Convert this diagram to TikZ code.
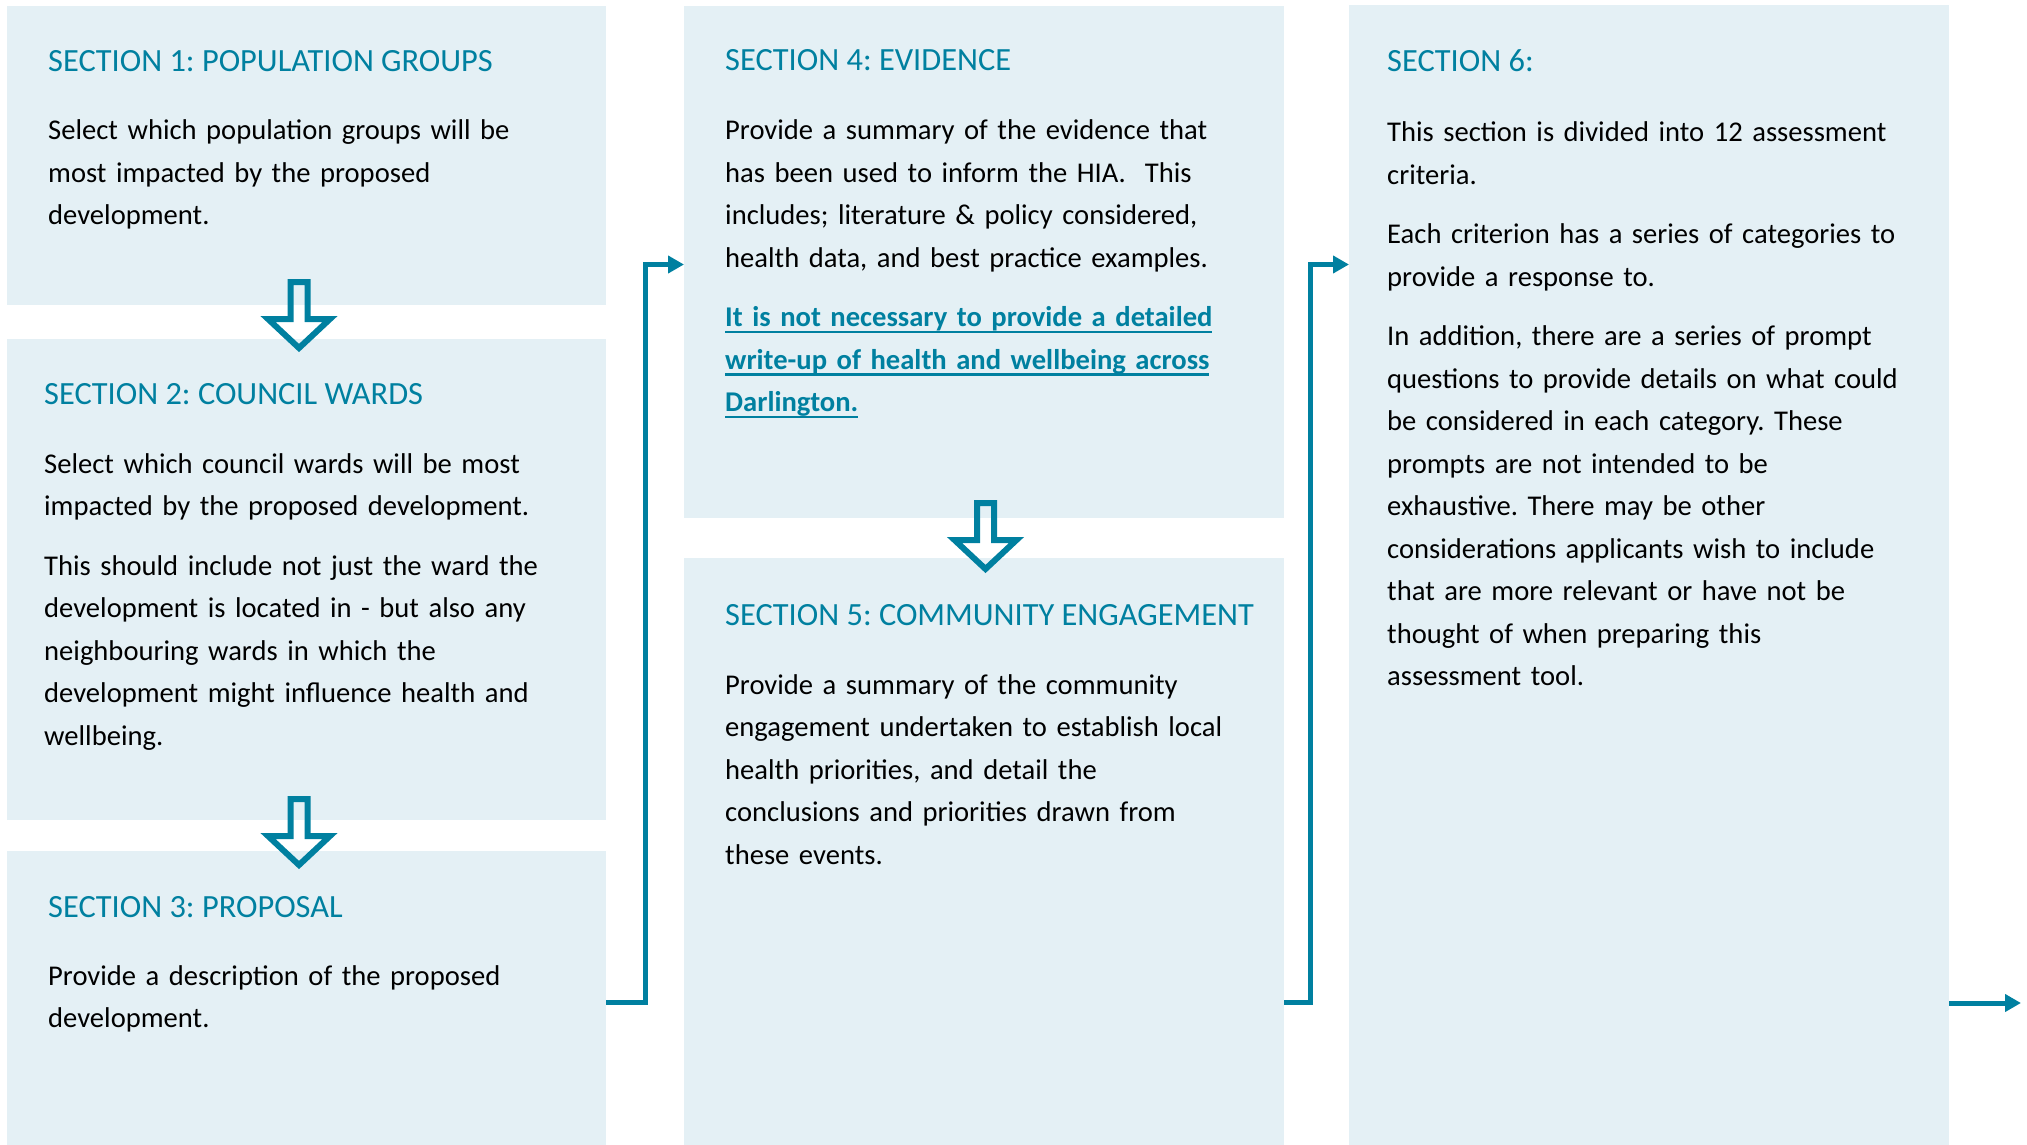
\documentclass[tikz,border=0pt]{standalone}
\usepackage{fontspec}
\setmainfont{Carlito}
\usepackage{xcolor}
\usepackage{tikz}
\usetikzlibrary{
  positioning,
  calc,
  arrows.meta
}
\definecolor{sectionteal}{RGB}{0,128,160}
\definecolor{boxblue}{RGB}{228,240,245}
\newcommand\titlefont{\fontsize{32.4}{42.5}\selectfont\frenchspacing}
\newcommand\bodyfont{\fontsize{28.6}{42.5}\selectfont\frenchspacing}
\newsavebox\linkbox
\newcommand\linkul[1]{\sbox\linkbox{#1}\rlap{\rule[-6.5pt]{\wd\linkbox}{2.5pt}}\usebox\linkbox}

\begin{document}
\begin{tikzpicture}[x=1pt,y=-1pt,
  box/.style={fill=boxblue,inner sep=0pt,outer sep=0pt,anchor=north west},
  sectitle/.style={anchor=base west,inner sep=0pt,text=sectionteal,font=\titlefont},
  sectext/.style={anchor=base west,inner sep=0pt,text width=580pt,align=left,font=\bodyfont},
  flow/.style={draw=sectionteal,line width=5pt,-{Triangle[length=16pt,width=17pt]}},
  hollowdown/.pic={\draw[sectionteal,line width=6pt] (-8.5,0) -- (-8.5,37) -- (-31,37) -- (0,66) -- (31,37) -- (8.5,37) -- (8.5,0) -- cycle;}]
  \useasboundingbox (0,0) rectangle (2027,1145);
  % 枠
  \node[box,minimum width=599.5,minimum height=298.5] (b1) at (6.5,6.5) {};
  \node[box,minimum width=599.5,minimum height=481] (b2) at (6.5,339) {};
  \node[box,minimum width=599.5,minimum height=294] (b3) at (6.5,851) {};
  \node[box,minimum width=600,minimum height=511.5] (b4) at (684,6.5) {};
  \node[box,minimum width=600,minimum height=587] (b5) at (684,558) {};
  \node[box,minimum width=600,minimum height=1140] (b6) at (1349,5) {};
  % 見出し
  \node[sectitle] (h1) at ([shift={(41.5,65.5)}]b1.north west) {SECTION 1: POPULATION GROUPS};
  \node[sectitle] (h2) at ([shift={(37.5,65)}]b2.north west) {SECTION 2: COUNCIL WARDS};
  \node[sectitle] (h3) at ([shift={(41.5,66)}]b3.north west) {SECTION 3: PROPOSAL};
  \node[sectitle] (h4) at ([shift={(41,64.5)}]b4.north west) {SECTION 4: EVIDENCE};
  \node[sectitle] (h5) at ([shift={(41,67)}]b5.north west) {SECTION 5: COMMUNITY ENGAGEMENT};
  \node[sectitle] (h6) at ([shift={(38,67)}]b6.north west) {SECTION 6:};
  % 本文
  \node[sectext] (t1) at ([yshift=-68pt]h1.base west) {Select which population groups will be\\
    most impacted by the proposed\\ development.};
  \node[sectext] (t2) at ([yshift=-69pt]h2.base west) {Select which council wards will be most\\
    impacted by the proposed development.\\[17pt]
    This should include not just the ward the\\ development is located in - but also any\\
    neighbouring wards in which the\\ development might influence health and\\ wellbeing.};
  \node[sectext] (t3) at ([yshift=-68pt]h3.base west) {Provide a description of the proposed\\ development.};
  \node[sectext] (t4) at ([yshift=-69pt]h4.base west) {Provide a summary of the evidence that\\
    has been used to inform the HIA.~~This\\ includes; literature \& policy considered,\\
    health data, and best practice examples.\\[17pt]
    \textcolor{sectionteal}{\bfseries\linkul{It is not necessary to provide a detailed}}\\
    \textcolor{sectionteal}{\bfseries\linkul{write-up of health and wellbeing across}}\\
    \textcolor{sectionteal}{\bfseries\linkul{Darlington.}}};
  \node[sectext] (t5) at ([yshift=-69pt]h5.base west) {Provide a summary of the community\\
    engagement undertaken to establish local\\ health priorities, and detail the\\
    conclusions and priorities drawn from\\ these events.};
  \node[sectext] (t6) at ([yshift=-70pt]h6.base west) {This section is divided into 12 assessment\\ criteria.\\[17pt]
    Each criterion has a series of categories to\\ provide a response to.\\[17pt]
    In addition, there are a series of prompt\\ questions to provide details on what could\\
    be considered in each category. These\\ prompts are not intended to be\\
    exhaustive. There may be other\\ considerations applicants wish to include\\
    that are more relevant or have not be\\ thought of when preparing this\\ assessment tool.};
  % 下向き矢印
  \pic at (299,282) {hollowdown};
  \pic at (299,799) {hollowdown};
  \pic at (985.5,503) {hollowdown};
  % 連結線
  \coordinate (low) at (0,1002);
  \coordinate (high) at (0,264.5);
  \coordinate (out) at (2021,1003);
  \draw[flow] (b3.east |- low) -- ++(39,0) |- (b4.west |- high);
  \draw[flow] (b5.east |- low) -- ++(26.5,0) |- (b6.west |- high);
  \draw[flow] (b6.east |- out) -- (out);
\end{tikzpicture}
\end{document}
